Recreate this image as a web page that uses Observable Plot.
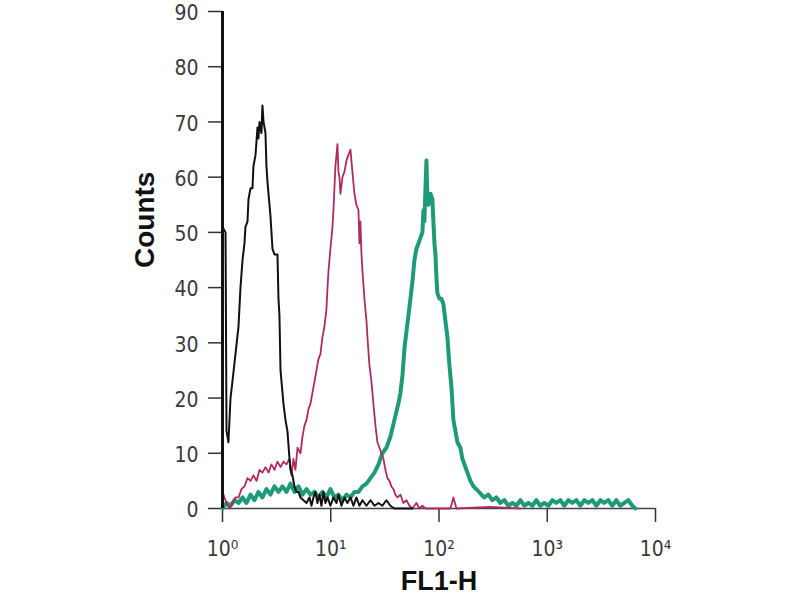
<!DOCTYPE html>
<html><head><meta charset="utf-8">
<script src="https://cdn.jsdelivr.net/npm/d3@7"></script>
<script src="https://cdn.jsdelivr.net/npm/@observablehq/plot@0.6"></script>
<style>
body{margin:0;background:#fff}
</style>
</head><body><div id="chart"></div>
<script>
// Tick values and labels
const xTicks = [1, 10, 100, 1000, 10000];
const xTickLabels = ["10\u2070", "10\u00b9", "10\u00b2", "10\u00b3", "10\u2074"];
const yTicks = [0, 10, 20, 30, 40, 50, 60, 70, 80, 90];

// Black (control) histogram: log10(FL1-H) positions and counts
const blackExp = [0, .028, .037, .055, .074, .092, .120, .148, .166, .185, .203, .212, .231, .240, .259, .277, .286, .305, .323, .332, .342, .360, .369, .379, .397, .406, .416, .434, .443, .462, .480, .508, .517, .526, .536, .554, .563, .582, .600, .619, .628, .646, .665, .683, .702, .720, .748, .776, .803, .822, .840, .859, .877, .896, .914, .933, .951, .970, .997, 1.025, 1.053, 1.071, 1.099, 1.127, 1.154, 1.182, 1.210, 1.237, 1.265, 1.293, 1.330, 1.367, 1.404, 1.441, 1.477, 1.514, 1.551, 1.588, 1.754];
const blackCounts = [51, 50, 14, 12, 20, 23, 28, 33, 40, 45, 48, 51, 52, 56, 58, 58, 62, 64, 69, 67, 70, 68, 73, 70, 68, 62, 59, 55, 53, 47, 46, 46, 38, 35, 25, 21, 19, 16, 14, 9, 7, 6, 4, 3, 3, 2, 1.5, 1, 2, .5, 2, 3, 1, 2.5, .5, 3, 1, 2, .5, 2, 1, 2.5, .5, 2, 1, 2, .5, 2, .5, 1.5, .5, 1.5, .5, 1, .5, 1.5, .5, 0, 0];

// Magenta histogram
const magentaExp = [0, .018, .037, .065, .092, .120, .148, .175, .203, .231, .259, .286, .314, .342, .369, .397, .425, .452, .480, .508, .536, .563, .591, .619, .637, .656, .674,
  .693, .720, .739, .757, .776, .794, .813, .831, .850, .868, .886, .905, .923, .942, .960, .970, .979, .997, 1.016, 1.025, 1.034, 1.043, 1.053, 1.062, 1.071, 1.080, 1.090, 1.108, 1.127, 1.145, 1.163, 1.182, 1.200, 1.219, 1.237, 1.256, 1.265, 1.274, 1.284, 1.293, 1.311, 1.330, 1.339, 1.357, 1.376, 1.394, 1.413, 1.431, 1.450, 1.468, 1.487, 1.505, 1.524, 1.542, 1.561, 1.579, 1.598, 1.616, 1.644, 1.671, 1.699, 1.727, 1.754, 1.791, 1.819, 1.847, 1.875, 2.105, 2.133, 2.161, 2.475, 2.752];
const magentaCounts = [3, 2, 1, 0, 1, 2, 2, 3.5, 4, 5.5, 5, 6, 5, 7, 6.5, 7.5, 6.5, 8, 7, 8.5, 7.5, 8.5, 8, 9, 6, 9, 7,
  11, 10, 13, 15, 16, 18, 19, 21, 23, 25, 27, 28, 31, 33, 36, 40, 43, 47, 51, 54, 58, 62, 64, 66, 61, 60, 57, 60, 61, 63, 64, 65, 61, 57, 55, 54, 48, 52, 46, 43, 38, 34, 31, 26, 23, 19, 15, 12, 11, 10, 9, 7, 5.5, 5, 4, 3.5, 2.5, 2, 2.5, 1, 1.5, .5, 0, 1, 0, .5, 0, 0, 2, 0, .3, 0];

// Teal histogram
const tealExp = [0, .037, .074, .111, .148, .185, .222, .259, .295, .332, .369, .406, .443, .480, .517, .554, .591, .628, .665, .702, .739, .776, .813, .850, .886, .923, .960, .997, 1.034, 1.071, 1.108, 1.145, 1.182, 1.219, 1.256, 1.293, 1.330, 1.367, 1.404, 1.441, 1.477, 1.514, 1.551, 1.588, 1.625,
  1.644, 1.662, 1.681, 1.699, 1.718, 1.736, 1.754, 1.773, 1.791, 1.810, 1.828, 1.847, 1.856, 1.865, 1.875, 1.884, 1.893, 1.902, 1.921, 1.939, 1.948, 1.958, 1.967, 1.976, 1.985, 2.004, 2.022, 2.041, 2.059, 2.078, 2.096, 2.115, 2.124, 2.133, 2.152, 2.170, 2.198, 2.216, 2.235, 2.253, 2.272, 2.290, 2.318, 2.355, 2.392,
  2.419, 2.456, 2.493, 2.530, 2.567, 2.604, 2.641, 2.678, 2.715, 2.752, 2.789, 2.826, 2.863, 2.899, 2.936, 2.973, 3.010, 3.047, 3.084, 3.121, 3.158, 3.195, 3.232, 3.269, 3.306, 3.343, 3.380, 3.417, 3.454, 3.491, 3.527, 3.564, 3.601, 3.638, 3.675, 3.712, 3.749, 3.786, 3.814];
const tealCounts = [0, 1, .5, 1.5, 1, 2, 1, 2.5, 1.5, 3, 2, 3.5, 2.5, 4, 3, 4, 3, 4.5, 3, 4, 2.5, 3.5, 2.5, 3, 2, 3, 2, 3.5, 2, 2.5, 1.5, 2.5, 2, 3, 3, 4, 4.5, 5.5, 6.5, 8, 10, 11, 13, 16, 19,
  21, 24, 29, 32, 35, 38, 41, 45, 47, 48, 49, 50, 54, 52, 58, 63, 56, 55, 57, 56, 52, 48, 46, 42, 39, 38, 38, 37, 34, 31, 26, 22, 19, 16, 14, 12, 11, 9, 8, 7, 6, 5, 4, 3.3, 2.5,
  2, 2.5, 1.5, 2, 1, 1.5, .5, 1, .5, 1.5, .5, 1, .5, 1.5, .5, 1, .5, 1.5, 1, 1.5, .5, 1.5, 1, 1.5, .5, 1.5, 1, 1.5, .5, 1.5, 1, 1.5, .5, 1.5, .5, 1, 1.5, .5, 0];

const toRows = (ex, ct) => ex.map((e, i) => ({x: Math.pow(10, e), y: ct[i]}));
const black = toRows(blackExp, blackCounts);
const magenta = toRows(magentaExp, magentaCounts);
const teal = toRows(tealExp, tealCounts);

const narrow = "'Liberation Sans Narrow', 'DejaVu Sans Condensed', 'Liberation Sans', Arial, sans-serif";

const chart = Plot.plot({
  width: 800,
  height: 600,
  marginLeft: 222,
  marginRight: 145,
  marginTop: 11,
  marginBottom: 92,
  style: {fontFamily: "'Liberation Sans', Arial, sans-serif", background: "#fff", color: "#333"},
  x: {type: "log", domain: [1, 10000]},
  y: {domain: [0, 90]},
  marks: [
    Plot.axisY({ticks: yTicks, tickSize: 14, tickFormat: () => "", label: null, stroke: "#333", strokeWidth: 1.5}),
    Plot.axisY({ticks: yTicks, tickSize: 0, tickPadding: 24, fontSize: 21, dy: 2, fontFamily: narrow, label: null, fill: "#3a3a3a"}),
    Plot.axisX({ticks: xTicks, tickFormat: d => xTickLabels[xTicks.indexOf(d)], tickSize: 14, tickPadding: 19, fontSize: 21, fontFamily: narrow, label: null, stroke: "#333", strokeWidth: 1.5, fill: "#3a3a3a"}),
    Plot.ruleY([0], {x1: 1, x2: 10000, stroke: "#444", strokeWidth: 1.6}),
    Plot.line(teal, {x: "x", y: "y", stroke: "#1f9a78", strokeWidth: 4}),
    Plot.line(magenta, {x: "x", y: "y", stroke: "#b02a62", strokeWidth: 1.8}),
    Plot.line(black, {x: "x", y: "y", stroke: "#111", strokeWidth: 2}),
    Plot.ruleX([1], {y1: 0, y2: 90, stroke: "#111", strokeWidth: 3}),
    Plot.text(["Counts"], {text: d => d, frameAnchor: "left", dx: -77, dy: 8, rotate: -90, fontSize: 28, fontWeight: "bold", fill: "#111"}),
    Plot.text(["FL1-H"], {text: d => d, frameAnchor: "bottom", dy: 81, fontSize: 27, fontWeight: "bold", fill: "#111"})
  ]
});
document.getElementById("chart").appendChild(chart);
</script>
</body></html>
